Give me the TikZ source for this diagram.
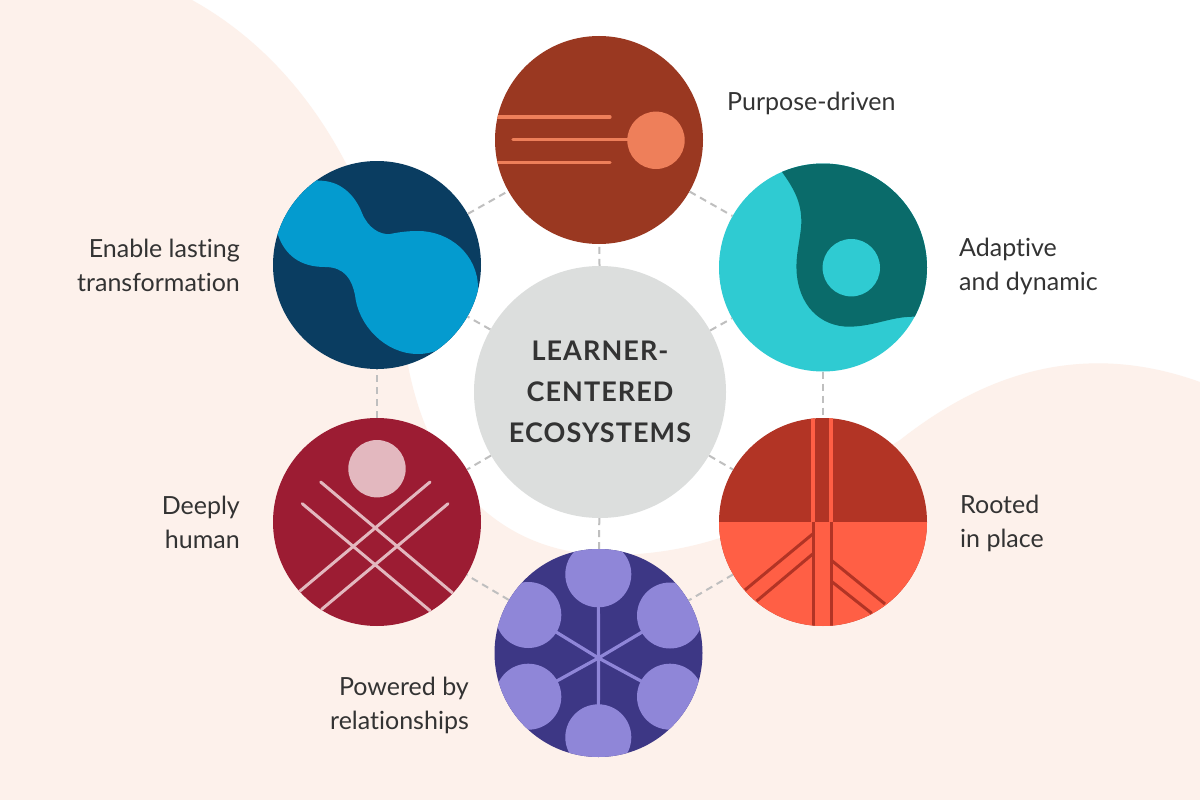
\documentclass[tikz,border=0pt]{standalone}
\usepackage{fontspec}
\setmainfont[Ligatures=NoCommon]{Lato}
\newfontfamily\hubfont[LetterSpace=4,Ligatures=NoCommon]{Lato}
\definecolor{peach}{HTML}{FDF1EB}
\definecolor{inkgray}{HTML}{333333}
\definecolor{linkgray}{HTML}{BFBFBF}
\definecolor{hubgray}{HTML}{DCDEDD}
\definecolor{rustdark}{HTML}{9A3821}
\definecolor{rustlight}{HTML}{EE7F5A}
\definecolor{tealdark}{HTML}{0A6B6A}
\definecolor{teallight}{HTML}{2FCBD2}
\definecolor{reddark}{HTML}{B23425}
\definecolor{redlight}{HTML}{FF5F45}
\definecolor{violetdark}{HTML}{3D3785}
\definecolor{violetlight}{HTML}{8F86D8}
\definecolor{winedark}{HTML}{9C1C33}
\definecolor{winelight}{HTML}{E3B8BF}
\definecolor{bluedark}{HTML}{0A3D61}
\definecolor{bluelight}{HTML}{049BCF}
\tikzset{
  disc/.style={circle,minimum size=208pt,inner sep=0pt},
  lnk/.style={dashed,dash pattern=on 7pt off 5pt,line width=2pt,linkgray},
  lbl/.style={font=\fontsize{25}{34}\selectfont,text=inkgray,inner sep=0pt},
}
\begin{document}
\begin{tikzpicture}[x=1pt,y=-1pt]
\useasboundingbox (0,0) rectangle (1200,800);
%background
\fill[white] (0,0) rectangle (1200,800);
\fill[peach] (0,0) -- (192,0) .. controls (300,60) and (380,180) .. (407,360)
  .. controls (430,490) and (510,555) .. (610,555)
  .. controls (740,555) and (820,490) .. (900,440)
  .. controls (970,385) and (1070,335) .. (1200,382)
  -- (1200,800) -- (0,800) -- cycle;
%hub and discs
\node[circle,minimum size=252pt,inner sep=0pt,fill=hubgray,text=inkgray,align=center,
  font=\fontsize{27}{41}\selectfont\hubfont\bfseries] (hub) at (600,392) {LEARNER-\\CENTERED\\ECOSYSTEMS};
\node[disc,fill=rustdark] (purpose) at (599,140) {};
\node[disc,fill=teallight] (adaptive) at (823,267.5) {};
\node[disc,fill=reddark] (rooted) at (823,522) {};
\node[disc,fill=violetdark] (powered) at (598.5,653) {};
\node[disc,fill=winedark] (human) at (377,522) {};
\node[disc,fill=bluedark] (lasting) at (377,265) {};
%dashed links
\foreach \a in {purpose,adaptive,rooted,powered,human,lasting}
  \draw[lnk] (hub) -- (\a);
\draw[lnk] (purpose) -- (adaptive);
\draw[lnk] (adaptive) -- (rooted);
\draw[lnk] (rooted) -- (powered);
\draw[lnk] (powered) -- (human);
\draw[lnk] (human) -- (lasting);
\draw[lnk] (lasting) -- (purpose);
%purpose-driven
\begin{scope}
\clip (purpose.center) circle (104);
\draw[rustlight,line width=3.2pt,line cap=round] (490,117) -- (610,117);
\draw[rustlight,line width=3.2pt,line cap=round] (513,139.5) -- (640,139.5);
\draw[rustlight,line width=3.2pt,line cap=round] (490,162.5) -- (610,162.5);
\fill[rustlight] (656,140.3) circle (28.7);
\end{scope}
%adaptive
\begin{scope}
\clip (adaptive.center) circle (104);
\fill[tealdark] (782,172) .. controls (795,190) and (803,205) .. (801,228)
  .. controls (799,245) and (796,255) .. (796.5,270)
  .. controls (798,305) and (820,327) .. (850,326.7)
  .. controls (875,326) and (890,317) .. (913,316.7)
  -- (940,316) -- (940,150) -- (770,150) -- cycle;
\fill[teallight] (851.3,267.7) circle (28.7);
\end{scope}
%rooted
\begin{scope}
\clip (rooted.center) circle (104);
\fill[redlight] (710,521.5) rectangle (935,635);
\draw[redlight,line width=4pt] (813,410) -- (813,521.5);
\draw[redlight,line width=4pt] (830.7,410) -- (830.7,521.5);
\draw[reddark,line width=3pt] (813,521.5) -- (813,635);
\draw[reddark,line width=3pt] (831,521.5) -- (831,635);
\draw[reddark,line width=3pt] (812.7,534) -- (745,590);
\draw[reddark,line width=3pt] (812.7,554) -- (756.7,601);
\draw[reddark,line width=3pt] (831,560) -- (885,604);
\draw[reddark,line width=3pt] (831,581) -- (871.7,613.3);
\end{scope}
%powered
\begin{scope}
\clip (powered.center) circle (104);
\foreach \x/\y in {598.3/574.3,670/615.5,670/696.7,598.3/737.3,528.3/696.7,528.3/615}{
  \draw[violetlight,line width=3.2pt] (598.5,658) -- (\x,\y);
  \fill[violetlight] (\x,\y) circle (33);
}
\end{scope}
%deeply human
\begin{scope}
\clip (human.center) circle (104);
\fill[winelight] (377,468.7) circle (28.7);
\draw[winelight,line width=3pt,line cap=round] (320.7,482) -- (452.3,592.7);
\draw[winelight,line width=3pt,line cap=round] (302.3,503.7) -- (430,610.7);
\draw[winelight,line width=3pt,line cap=round] (430,482) -- (300,591);
\draw[winelight,line width=3pt,line cap=round] (448,503.7) -- (321.7,609.3);
\end{scope}
%lasting transformation
\begin{scope}
\clip (lasting.center) circle (104);
\fill[bluelight] (318,180.7) .. controls (340,180) and (355,195) .. (362,213)
  .. controls (368,228) and (380,235) .. (390,234)
  .. controls (400,232) and (408,231) .. (418,231)
  .. controls (450,231) and (478,255) .. (478,288)
  .. controls (478,325) and (450,354) .. (418,354)
  .. controls (385,354) and (358,325) .. (355,295)
  .. controls (352,280) and (345,267) .. (325,267)
  .. controls (300,267) and (285,255) .. (278,235)
  -- (260,222) -- (300,170) -- cycle;
\end{scope}
%labels
\node[lbl,anchor=west,align=left] (purposetxt) at (727,103.5) {Purpose-driven};
\node[lbl,anchor=west,align=left] (adaptivetxt) at (959,266) {Adaptive\\and dynamic};
\node[lbl,anchor=west,align=left] (rootedtxt) at (960,523) {Rooted\\in place};
\node[lbl,anchor=east,align=right] (poweredtxt) at (469,705) {Powered by\\relationships};
\node[lbl,anchor=east,align=right] (humantxt) at (240,522) {Deeply\\human};
\node[lbl,anchor=east,align=right] (lastingtxt) at (240,265) {Enable lasting\\transformation};
\end{tikzpicture}
\end{document}
